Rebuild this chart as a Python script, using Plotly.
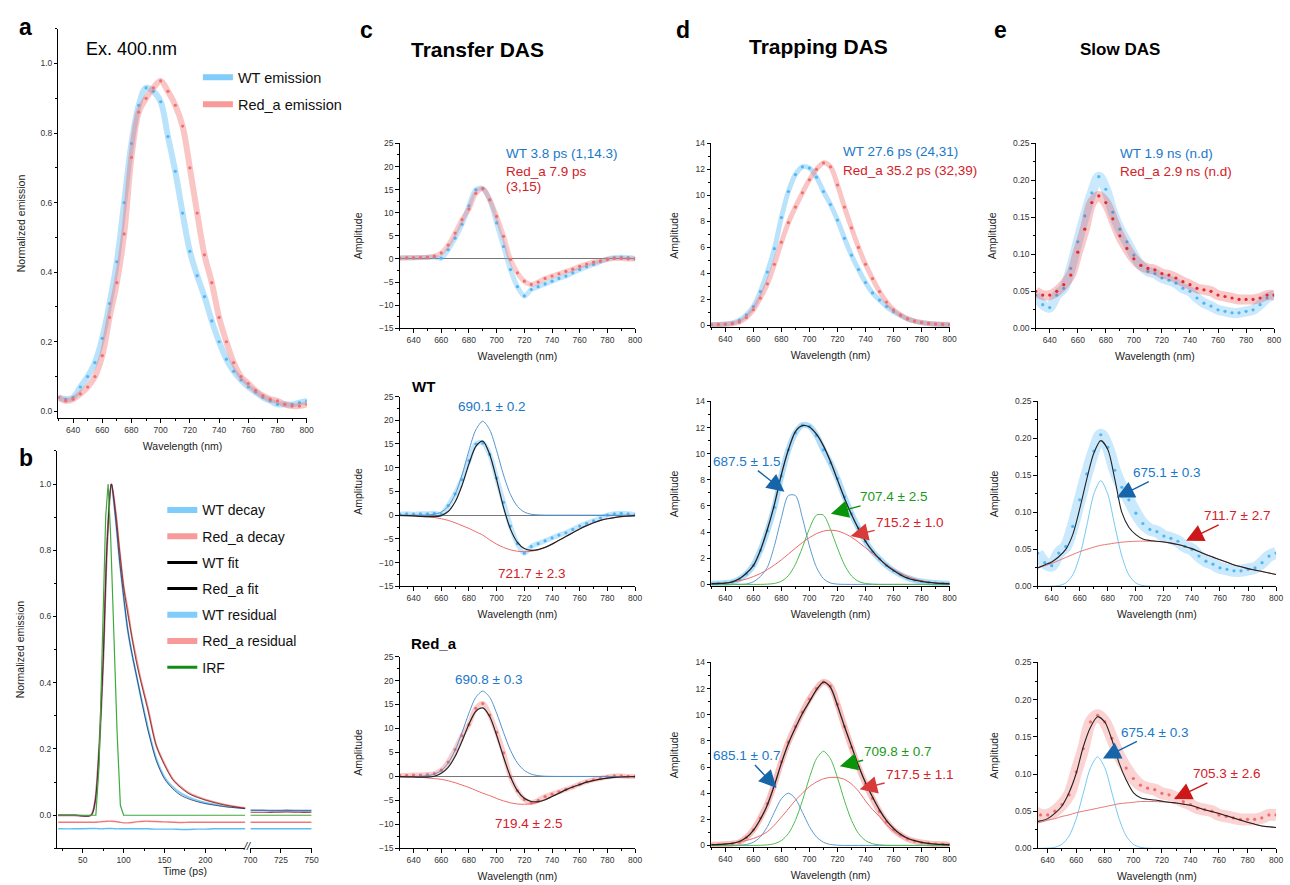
import plotly.graph_objects as go

W, H = 1290, 885
def px(x): return x / W
def py(y): return 1 - y / H

# ---------------- data ----------------
wl = list(range(630, 805, 5))

# panel a : normalized emission
a_wt = [0.04,0.035,0.04,0.07,0.10,0.14,0.21,0.31,0.43,0.60,0.77,0.88,0.93,0.92,0.89,0.79,0.69,0.57,0.46,0.39,
        0.33,0.26,0.20,0.15,0.115,0.09,0.07,0.055,0.04,0.03,0.02,0.02,0.02,0.025,0.03]
a_red = [0.04,0.03,0.035,0.05,0.07,0.10,0.16,0.27,0.37,0.51,0.73,0.86,0.90,0.93,0.95,0.92,0.88,0.82,0.70,0.57,
         0.45,0.37,0.27,0.20,0.14,0.10,0.08,0.06,0.045,0.035,0.03,0.02,0.015,0.015,0.02]

# panel b : decays (ps)
t_left = [20,40,60,65,70,75,80,85,90,95,100,105,110,115,120,125,130,140,150,160,170,180,190,200,210,220,230,240,249]
b_wt = [0,0,0,0.04,0.2,0.47,0.83,1.0,0.9,0.77,0.66,0.56,0.49,0.43,0.37,0.315,0.26,0.17,0.115,0.085,0.066,0.054,0.045,0.038,0.033,0.029,0.026,0.023,0.021]
b_wt_fit = [0,0,0,0.04,0.2,0.47,0.83,1.0,0.9,0.77,0.66,0.56,0.49,0.43,0.37,0.31,0.255,0.165,0.11,0.08,0.06,0.049,0.041,0.035,0.031,0.027,0.024,0.022,0.02]
b_red = [0,0,0,0.04,0.2,0.47,0.83,1.0,0.92,0.80,0.69,0.62,0.54,0.48,0.42,0.37,0.32,0.21,0.155,0.11,0.085,0.067,0.056,0.047,0.04,0.034,0.029,0.025,0.022]
b_red_fit = [0,0,0,0.04,0.2,0.47,0.83,1.0,0.92,0.80,0.69,0.61,0.54,0.47,0.415,0.365,0.315,0.21,0.152,0.108,0.083,0.065,0.054,0.046,0.039,0.033,0.028,0.024,0.021]
b_red_res = [-0.021,-0.021,-0.021,-0.021,-0.02,-0.019,-0.018,-0.018,-0.019,-0.021,-0.023,-0.023,-0.022,-0.02,-0.019,-0.018,-0.018,-0.019,-0.02,-0.021,-0.022,-0.021,-0.021,-0.021,-0.021,-0.021,-0.021,-0.021,-0.021]
b_wt_res = [-0.041,-0.041,-0.04,-0.04,-0.041,-0.041,-0.04,-0.04,-0.041,-0.041,-0.041,-0.041,-0.041,-0.041,-0.041,-0.041,-0.041,-0.042,-0.042,-0.042,-0.043,-0.043,-0.042,-0.042,-0.041,-0.041,-0.041,-0.041,-0.041]
irf_t = [20,60,66,70,74,78,81,84,88,92,96,100,150,249]
irf = [0,0,0,0.15,0.55,0.9,1.0,0.85,0.55,0.25,0.03,0,0,0]
t_right = [700,710,720,730,740,750]
b_wt_r = [0.015,0.015,0.014,0.015,0.014,0.014]
b_red_r = [0.009,0.009,0.009,0.01,0.009,0.009]
irf_r = [0,0,0,0,0,0]
b_wt_res_r = [-0.041,-0.041,-0.041,-0.041,-0.041,-0.041]
b_red_res_r = [-0.021,-0.021,-0.021,-0.021,-0.021,-0.021]

# panel c : transfer DAS
c_wt = [0.2,0.3,0.2,0.3,0.3,0.4,0.2,2.0,4.5,7.5,11.5,15.0,15.2,12.8,7.8,2.7,-2.3,-6.0,-8.0,-6.6,
        -6.0,-5.4,-4.8,-4.2,-3.7,-3.0,-2.3,-1.7,-1.2,-0.6,0.0,0.3,0.4,0.3,0.1]
c_red = [0.2,0.2,0.3,0.3,0.4,0.6,1.3,3.0,5.6,8.5,10.8,14.2,15.2,12.8,9.2,4.9,-0.1,-3.0,-4.8,-5.5,
         -5.0,-4.2,-3.7,-3.2,-2.7,-2.2,-1.6,-1.1,-0.7,-0.4,-0.1,0.1,0.1,0.0,0.0]
c_wt_fit = [-0.05,-0.1,-0.15,-0.24,-0.3,-0.31,-0.09,0.76,2.76,6.25,10.8,14.5,15.6,12.8,7.5,1.65,-2.94,-5.74,-7.04,-7.41,
            -7.25,-6.79,-6.1,-5.3,-4.5,-3.7,-2.9,-2.2,-1.6,-1.1,-0.75,-0.5,-0.3,-0.2,-0.1]
c_wt_g1 = [0,0,0,0.01,0.05,0.19,0.66,1.86,4.36,8.45,13.6,18.0,19.8,18.0,13.6,8.45,4.36,1.86,0.66,0.19,
           0.05,0.01,0,0,0,0,0,0,0,0,0,0,0,0,0]
c_wt_g2 = [-0.05,-0.1,-0.15,-0.25,-0.35,-0.5,-0.75,-1.1,-1.6,-2.2,-2.8,-3.5,-4.2,-5.2,-6.1,-6.8,-7.3,-7.6,-7.7,-7.6,
           -7.3,-6.8,-6.1,-5.3,-4.5,-3.7,-2.9,-2.2,-1.6,-1.1,-0.75,-0.5,-0.3,-0.2,-0.1]
c_red_fit = [-0.05,-0.08,-0.11,-0.16,-0.14,0.03,0.64,1.9,4.15,7.35,10.9,13.6,14.3,12.5,8.6,4.05,-0.05,-2.95,-4.56,-5.22,
             -5.24,-4.86,-4.19,-3.5,-2.8,-2.2,-1.7,-1.2,-0.85,-0.55,-0.35,-0.2,-0.12,-0.07,-0.04]
c_red_g1 = [0,0,0.01,0.04,0.16,0.48,1.24,2.8,5.45,9.15,13.2,16.5,17.8,16.5,13.2,9.15,5.45,2.8,1.24,0.48,
            0.16,0.04,0.01,0,0,0,0,0,0,0,0,0,0,0,0]
c_red_g2 = [-0.05,-0.08,-0.12,-0.2,-0.3,-0.45,-0.6,-0.9,-1.3,-1.8,-2.3,-2.9,-3.5,-4.0,-4.6,-5.1,-5.5,-5.75,-5.8,-5.7,
            -5.4,-4.9,-4.2,-3.5,-2.8,-2.2,-1.7,-1.2,-0.85,-0.55,-0.35,-0.2,-0.12,-0.07,-0.04]

# panel d : trapping DAS
d_wt = [0.05,0.07,0.1,0.18,0.4,0.8,1.45,2.6,4.1,5.9,8.3,10.3,11.6,12.2,12.1,11.4,10.3,9.3,8.1,6.7,
        5.4,4.3,3.3,2.5,1.95,1.45,1.05,0.75,0.5,0.33,0.22,0.15,0.1,0.07,0.05]
d_red = [0.05,0.06,0.08,0.13,0.25,0.6,1.2,2.1,3.2,4.7,6.4,7.9,9.1,10.2,11.2,12.0,12.5,12.2,10.8,9.1,
         7.5,6.0,4.7,3.6,2.6,1.8,1.2,0.8,0.5,0.33,0.22,0.15,0.1,0.08,0.06]
d_wt_fit = [0.05,0.07,0.1,0.2,0.43,0.85,1.44,2.6,4.2,6.1,8.4,10.3,11.7,12.15,12.05,11.5,10.6,9.4,8.0,6.6,
            5.35,4.25,3.3,2.55,1.95,1.45,1.06,0.73,0.48,0.33,0.23,0.15,0.1,0.07,0.05]
d_wt_g1 = [0,0,0,0,0.003,0.03,0.2,0.6,1.31,2.95,5.09,6.8,6.8,5.09,2.95,1.31,0.44,0.11,0.02,0.003,
           0,0,0,0,0,0,0,0,0,0,0,0,0,0,0]
d_wt_g2 = [0,0,0,0,0,0,0,0,0.02,0.07,0.24,0.67,1.53,2.83,4.27,5.3,5.3,4.21,2.78,1.49,
           0.65,0.23,0.07,0.02,0,0,0,0,0,0,0,0,0,0,0]
d_wt_g3 = [0.04,0.07,0.11,0.18,0.28,0.41,0.6,0.83,1.13,1.48,1.88,2.32,2.77,3.2,3.58,3.88,4.08,4.15,4.09,3.9,
           3.61,3.23,2.8,2.36,1.92,1.51,1.15,0.85,0.61,0.42,0.28,0.18,0.12,0.07,0.04]
d_red_fit = [0.05,0.06,0.1,0.15,0.3,0.6,1.15,2.0,3.1,4.6,6.3,7.8,9.0,10.1,11.0,11.9,12.5,12.1,10.7,9.1,
             7.6,6.1,4.8,3.7,2.7,1.9,1.3,0.85,0.55,0.36,0.24,0.16,0.1,0.07,0.05]
d_red_g1 = [0,0,0,0,0.015,0.07,0.24,0.65,1.44,2.54,3.57,4.0,3.57,2.54,1.44,0.65,0.24,0.07,0.015,0,
            0,0,0,0,0,0,0,0,0,0,0,0,0,0,0]
d_red_g2 = [0,0,0,0,0,0,0,0.01,0.04,0.13,0.37,0.91,1.92,3.42,5.18,6.63,7.2,6.63,5.18,3.42,
            1.92,0.91,0.37,0.13,0.04,0.01,0,0,0,0,0,0,0,0,0]
d_red_g3 = [0.05,0.08,0.12,0.18,0.27,0.38,0.53,0.75,1.05,1.55,2.17,2.8,3.45,4.0,4.5,4.85,5.1,5.2,5.2,5.05,
            4.7,4.15,3.4,2.75,2.2,1.6,1.1,0.75,0.5,0.33,0.22,0.14,0.09,0.06,0.04]

# panel e : slow DAS
e_wt = [0.045,0.032,0.028,0.045,0.054,0.081,0.117,0.152,0.183,0.205,0.188,0.157,0.134,0.117,0.099,0.085,0.077,0.074,0.068,0.065,
        0.061,0.054,0.05,0.041,0.034,0.03,0.025,0.023,0.021,0.021,0.023,0.025,0.032,0.041,0.045]
e_red = [0.05,0.045,0.045,0.05,0.059,0.072,0.103,0.134,0.17,0.179,0.17,0.148,0.125,0.108,0.094,0.085,0.081,0.079,0.074,0.072,
         0.068,0.063,0.059,0.054,0.052,0.05,0.045,0.043,0.041,0.039,0.039,0.039,0.041,0.045,0.045]
e_wt_fit = [0.025,0.029,0.033,0.04,0.05,0.07,0.105,0.145,0.18,0.197,0.185,0.145,0.10,0.08,0.07,0.064,0.062,0.061,0.06,0.0585,
            0.0565,0.054,0.051,0.047,0.043,0.0395,0.036,0.0325,0.029,0.0265,0.024,0.022,0.02,0.018,0.016]
e_wt_g1 = [0,0,0.0002,0.001,0.0045,0.0155,0.041,0.082,0.1245,0.143,0.1245,0.082,0.041,0.0155,0.0045,0.001,0.0002,0,0,0,
           0,0,0,0,0,0,0,0,0,0,0,0,0,0,0]
e_wt_g2 = [0.025,0.028,0.031,0.035,0.039,0.043,0.047,0.05,0.053,0.0555,0.057,0.0585,0.0597,0.0605,0.061,0.0612,0.061,0.0607,0.06,0.0585,
           0.0565,0.054,0.051,0.047,0.043,0.0395,0.036,0.0325,0.029,0.0265,0.024,0.022,0.02,0.018,0.016]
e_red_fit = [0.035,0.037,0.04,0.047,0.057,0.075,0.101,0.137,0.163,0.177,0.17,0.146,0.115,0.092,0.075,0.068,0.066,0.065,0.0635,0.062,
             0.061,0.0595,0.058,0.055,0.052,0.0495,0.047,0.044,0.041,0.038,0.035,0.0325,0.03,0.029,0.028]
e_red_g1 = [0,0,0.0003,0.0014,0.0054,0.0166,0.04,0.0746,0.1085,0.123,0.1085,0.0746,0.04,0.0166,0.0054,0.0014,0.0003,0,0,0,
            0,0,0,0,0,0,0,0,0,0,0,0,0,0,0]
e_red_g2 = [0.033,0.035,0.038,0.04,0.043,0.045,0.048,0.05,0.052,0.054,0.056,0.058,0.06,0.061,0.062,0.063,0.063,0.063,0.0625,0.062,
            0.061,0.0595,0.058,0.055,0.052,0.0495,0.047,0.044,0.041,0.038,0.035,0.0325,0.03,0.029,0.028]

# ---------------- styles ----------------
FONT = "Liberation Sans"
C_WT = "rgb(80,182,245)"
C_RED = "rgb(242,110,110)"
C_RED_E = "rgb(232,40,44)"
T_BLUE = "#1a78c8"
T_RED = "#d42027"
T_GREEN = "#1a9a1a"

fig = go.Figure()

def scatter(x, y, ax, color, band_alpha=0.4, band_w=5, msize=3.2):
    r = color[4:-1]
    fig.add_trace(go.Scatter(x=x, y=y, xaxis=ax[0], yaxis=ax[1], mode="lines",
                             line=dict(color=f"rgba({r},{band_alpha})", width=band_w, shape="spline"),
                             showlegend=False, hoverinfo="skip"))
    fig.add_trace(go.Scatter(x=x, y=y, xaxis=ax[0], yaxis=ax[1], mode="markers",
                             marker=dict(color=color, size=msize), showlegend=False))

def line(x, y, ax, color, width=1.0, **kw):
    fig.add_trace(go.Scatter(x=x, y=y, xaxis=ax[0], yaxis=ax[1], mode="lines",
                             line=dict(color=color, width=width, shape="spline", smoothing=0.8),
                             showlegend=False, **kw))

# panel a
scatter(wl, a_wt, ("x", "y"), C_WT, 0.4, 6)
scatter(wl, a_red, ("x", "y"), C_RED, 0.4, 6)

# panel b
line(t_left, b_wt, ("x2", "y2"), "rgb(130,205,245)", 2)
line(t_left, b_red, ("x2", "y2"), "rgb(245,150,150)", 2)
line(t_left, b_wt_fit, ("x2", "y2"), "rgba(20,40,90,0.75)", 1)
line(t_left, b_red_fit, ("x2", "y2"), "rgba(90,20,20,0.7)", 1)
line(t_left, b_wt_res, ("x2", "y2"), "rgb(90,190,245)", 1.4)
line(t_left, b_red_res, ("x2", "y2"), "rgb(240,120,120)", 1.4)
fig.add_trace(go.Scatter(x=irf_t, y=irf, xaxis="x2", yaxis="y2", mode="lines",
                         line=dict(color="rgb(60,170,60)", width=1.2), showlegend=False))
line(t_right, irf_r, ("x3", "y2"), "rgb(60,170,60)", 1.2)
line(t_right, b_wt_r, ("x3", "y2"), "rgb(70,120,190)", 1.6)
line(t_right, b_red_r, ("x3", "y2"), "rgb(160,60,60)", 1.2)
line(t_right, b_wt_res_r, ("x3", "y2"), "rgb(90,190,245)", 1.4)
line(t_right, b_red_res_r, ("x3", "y2"), "rgb(240,120,120)", 1.4)

# panel c
scatter(wl, c_wt, ("x4", "y4"), C_WT, 0.35, 5)
scatter(wl, c_red, ("x4", "y4"), C_RED, 0.35, 5)
scatter(wl, c_wt, ("x5", "y5"), C_WT, 0.35, 5)
line(wl, c_wt_g1, ("x5", "y5"), "#4f93d2", 1)
line(wl, c_wt_g2, ("x5", "y5"), "#ee6a6a", 1)
line(wl, c_wt_fit, ("x5", "y5"), "#222222", 1.2)
scatter(wl, c_red, ("x6", "y6"), C_RED, 0.35, 5)
line(wl, c_red_g1, ("x6", "y6"), "#4f93d2", 1)
line(wl, c_red_g2, ("x6", "y6"), "#ee6a6a", 1)
line(wl, c_red_fit, ("x6", "y6"), "#222222", 1.2)

# panel d
scatter(wl, d_wt, ("x7", "y7"), C_WT, 0.4, 5)
scatter(wl, d_red, ("x7", "y7"), C_RED, 0.4, 5)
scatter(wl, d_wt, ("x8", "y8"), C_WT, 0.45, 6)
line(wl, d_wt_g1, ("x8", "y8"), "#5b9bd0", 1)
line(wl, d_wt_g2, ("x8", "y8"), "#4dbb4d", 1)
line(wl, d_wt_g3, ("x8", "y8"), "#e86a6a", 1)
line(wl, d_wt_fit, ("x8", "y8"), "#222222", 1.3)
scatter(wl, d_red, ("x9", "y9"), C_RED, 0.45, 6)
line(wl, d_red_g1, ("x9", "y9"), "#5b9bd0", 1)
line(wl, d_red_g2, ("x9", "y9"), "#4dbb4d", 1)
line(wl, d_red_g3, ("x9", "y9"), "#e86a6a", 1)
line(wl, d_red_fit, ("x9", "y9"), "#222222", 1.3)

# panel e
scatter(wl, e_wt, ("x10", "y10"), C_WT, 0.3, 10)
scatter(wl, e_red, ("x10", "y10"), C_RED_E, 0.25, 10)
scatter(wl, e_wt, ("x11", "y11"), C_WT, 0.3, 12)
line(wl, e_wt_g1, ("x11", "y11"), "#74c8f2", 1)
line(wl, e_wt_g2, ("x11", "y11"), "#e87878", 1)
line(wl, e_wt_fit, ("x11", "y11"), "#222222", 1.1)
scatter(wl, e_red, ("x12", "y12"), C_RED, 0.3, 12)
line(wl, e_red_g1, ("x12", "y12"), "#74c8f2", 1)
line(wl, e_red_g2, ("x12", "y12"), "#e87878", 1)
line(wl, e_red_fit, ("x12", "y12"), "#222222", 1.1)

# legend-only traces
def leg(name, color, width, legend, ax):
    fig.add_trace(go.Scatter(x=[None], y=[None], xaxis=ax[0], yaxis=ax[1], mode="lines", name=name,
                             line=dict(color=color, width=width), legend=legend,
                             legendgroup=name, showlegend=True))

leg("WT emission", "rgb(128,205,251)", 6, "legend", ("x", "y"))
leg("Red_a emission", "rgb(248,154,154)", 6, "legend", ("x", "y"))
for nm, col, w in [("WT decay", "rgb(128,205,251)", 6), ("Red_a decay", "rgb(248,154,154)", 6),
                   ("WT fit", "black", 3), ("Red_a fit", "black", 3),
                   ("WT residual", "rgb(128,205,251)", 6), ("Red_a residual", "rgb(248,154,154)", 6),
                   ("IRF", "rgb(20,140,20)", 3)]:
    leg(nm, col, w, "legend2", ("x2", "y2"))

# ---------------- axes ----------------
TICKF = dict(family=FONT, size=8.5, color="#333")
TITF = dict(family=FONT, size=10.5, color="#222")

def base_axis(domain, anchor):
    return dict(domain=domain, anchor=anchor, showline=True, linecolor="black", linewidth=1,
                ticks="outside", ticklen=3.5, tickwidth=1, tickcolor="black", showgrid=False,
                zeroline=False, tickfont=TICKF, fixedrange=True)

def wl_axis(x0, x1, anchor, rng=(630, 800)):
    d = base_axis([px(x0), px(x1)], anchor)
    d.update(range=list(rng), tickmode="linear", tick0=640, dtick=20,
             minor=dict(ticks="outside", ticklen=2, dtick=10, tick0=630, tickcolor="black"),
             title=dict(text="Wavelength (nm)", font=TITF, standoff=8))
    return d

def y_axis(y0, y1, anchor, rng, dtick, minor, fmt=None, title="Amplitude", zero=False, standoff=14):
    d = base_axis([py(y1), py(y0)], anchor)
    d.update(range=list(rng), tickmode="linear", tick0=0, dtick=dtick,
             minor=dict(ticks="outside", ticklen=2, dtick=minor, tick0=0, tickcolor="black"),
             title=dict(text=title, font=TITF, standoff=standoff))
    if fmt:
        d["tickformat"] = fmt
    if zero:
        d.update(zeroline=True, zerolinecolor="#777", zerolinewidth=1)
    return d

lay = {}
lay["xaxis"] = wl_axis(52, 303, "y")
lay["yaxis"] = y_axis(24, 418, "x", (-0.02, 1.1), 0.2, 0.1, ".1f", "Normalized emission", standoff=12)

bx = base_axis([px(51), px(241)], "y2")
bx.update(range=[19, 249], tickmode="array", tickvals=[50, 100, 150, 200],
          minor=dict(ticks="outside", ticklen=2, tickvals=[25, 75, 125, 175, 225], tickcolor="black"))
lay["xaxis2"] = bx
bx3 = base_axis([px(246), px(308)], "y2")
bx3.update(range=[700, 750], tickmode="linear", tick0=700, dtick=25)
lay["xaxis3"] = bx3
lay["yaxis2"] = y_axis(451, 853, "x2", (-0.1, 1.1), 0.2, 0.1, ".1f", "Normalized emission", standoff=12)

rows = [(140, 327), (396, 588), (659, 853)]
for i, (y0, y1) in enumerate(rows):
    n = 4 + i
    lay[f"xaxis{n}"] = wl_axis(397, 635, f"y{n}")
    lay[f"yaxis{n}"] = y_axis(y0, y1, f"x{n}", (-15, 25), 5, 2.5, zero=True)

rows_d = [(140, 326), (401, 588), (665, 852)]
for i, (y0, y1) in enumerate(rows_d):
    n = 7 + i
    lay[f"xaxis{n}"] = wl_axis(712, 953, f"y{n}")
    lay[f"yaxis{n}"] = y_axis(y0, y1, f"x{n}", (-0.15, 14), 2, 1)

rows_e = [(1040, 1281, 140, 327, 630), (1042, 1283, 401, 588, 630), (1042, 1283, 665, 853, 633)]
for i, (x0, x1, y0, y1, xs) in enumerate(rows_e):
    n = 10 + i
    lay[f"xaxis{n}"] = wl_axis(x0, x1, f"y{n}", (xs, 800))
    lay[f"yaxis{n}"] = y_axis(y0, y1, f"x{n}", (0, 0.25), 0.05, 0.025, ".2f")

fig.update_layout(**lay)

# ---------------- annotations ----------------
ann = []
def txt(x, y, s, size=13, color="#111", bold=False, xanchor="center"):
    ann.append(dict(x=px(x), y=py(y), xref="paper", yref="paper", text=f"<b>{s}</b>" if bold else s,
                    showarrow=False, xanchor=xanchor, yanchor="middle",
                    font=dict(family=FONT, size=size, color=color)))

for s, x, y in [("a", 19, 22), ("b", 19, 458), ("c", 363, 25), ("d", 683, 25), ("e", 1004, 25)]:
    txt(x, y, s, 23, "black", True)
txt(476, 45, "Transfer DAS", 21, "black", True)
txt(820, 42, "Trapping DAS", 21, "black", True)
txt(1125, 45, "Slow DAS", 17, "black", True)
txt(78, 44, "Ex. 400.nm", 18, "black", False, "left")
txt(407, 386, "WT", 15, "black", True, "left")
txt(406, 646, "Red_a", 15, "black", True, "left")

TS = 13.5
txt(502, 150, "WT 3.8 ps (1,14.3)", TS, T_BLUE, False, "left")
txt(502, 168, "Red_a 7.9 ps", TS, T_RED, False, "left")
txt(502, 184, "(3,15)", TS, T_RED, False, "left")
txt(843, 148, "WT 27.6 ps (24,31)", TS, T_BLUE, False, "left")
txt(843, 167, "Red_a 35.2 ps (32,39)", TS, T_RED, False, "left")
txt(1123, 150, "WT 1.9 ns (n.d)", TS, T_BLUE, False, "left")
txt(1123, 168, "Red_a 2.9 ns (n.d)", TS, T_RED, False, "left")

txt(490, 406, "690.1 ± 0.2", 13.5, T_BLUE)
txt(530, 575, "721.7 ± 2.3", 13.5, T_RED)
txt(487, 682, "690.8 ± 0.3", 13.5, T_BLUE)
txt(527, 828, "719.4 ± 2.5", 13.5, T_RED)

def arrow(xr, yr, x, y, ax, ay, s, tcolor, acolor):
    ann.append(dict(x=x, y=y, xref=xr, yref=yr, ax=ax, ay=ay, text=s, showarrow=True,
                    arrowhead=2, arrowsize=2.5, arrowwidth=1.4, arrowcolor=acolor,
                    font=dict(family=FONT, size=13.5, color=tcolor)))

arrow("x8", "y8", 682.2, 7.1, -38, -30, "687.5 ± 1.5", T_BLUE, "#1565a8")
arrow("x8", "y8", 715.3, 5.4, 63, -17, "707.4 ± 2.5", T_GREEN, "#0a940a")
arrow("x8", "y8", 729.4, 3.7, 59, -14, "715.2 ± 1.0", T_RED, "#d83a3a")
arrow("x9", "y9", 676.5, 4.4, -30, -32, "685.1 ± 0.7", T_BLUE, "#1565a8")
arrow("x9", "y9", 721.7, 6.06, 58, -15, "709.8 ± 0.7", T_GREEN, "#0a940a")
arrow("x9", "y9", 735.8, 4.3, 60, -15, "717.5 ± 1.1", T_RED, "#d83a3a")
arrow("x11", "y11", 686.4, 0.120, 50, -25, "675.1 ± 0.3", T_BLUE, "#1565a8")
arrow("x11", "y11", 735.8, 0.0615, 51, -25, "711.7 ± 2.7", T_RED, "#cc1818")
arrow("x12", "y12", 678.7, 0.121, 52, -26, "675.4 ± 0.3", T_BLUE, "#1565a8")
arrow("x12", "y12", 728.6, 0.0665, 52, -25, "705.3 ± 2.6", T_RED, "#cc1818")

txt(180, 876, "Time (ps)", 10.5, "#222")
txt(243, 851, "<i>//</i>", 11, "#222")

fig.update_layout(
    annotations=ann,
    width=W, height=H, margin=dict(l=0, r=0, t=0, b=0),
    paper_bgcolor="white", plot_bgcolor="white",
    font=dict(family=FONT, color="#222"),
    hovermode=False,
    legend=dict(x=px(193), y=py(57), xanchor="left", yanchor="top", bgcolor="rgba(0,0,0,0)",
                font=dict(family=FONT, size=14.5, color="#111"), tracegroupgap=5, itemwidth=30),
    legend2=dict(x=px(157), y=py(495), xanchor="left", yanchor="top", bgcolor="rgba(0,0,0,0)",
                 font=dict(family=FONT, size=14, color="#111"), tracegroupgap=5, itemwidth=30),
)

fig.write_html("out.html", config={"displayModeBar": False},
               post_script="document.body.style.margin='0px';")
